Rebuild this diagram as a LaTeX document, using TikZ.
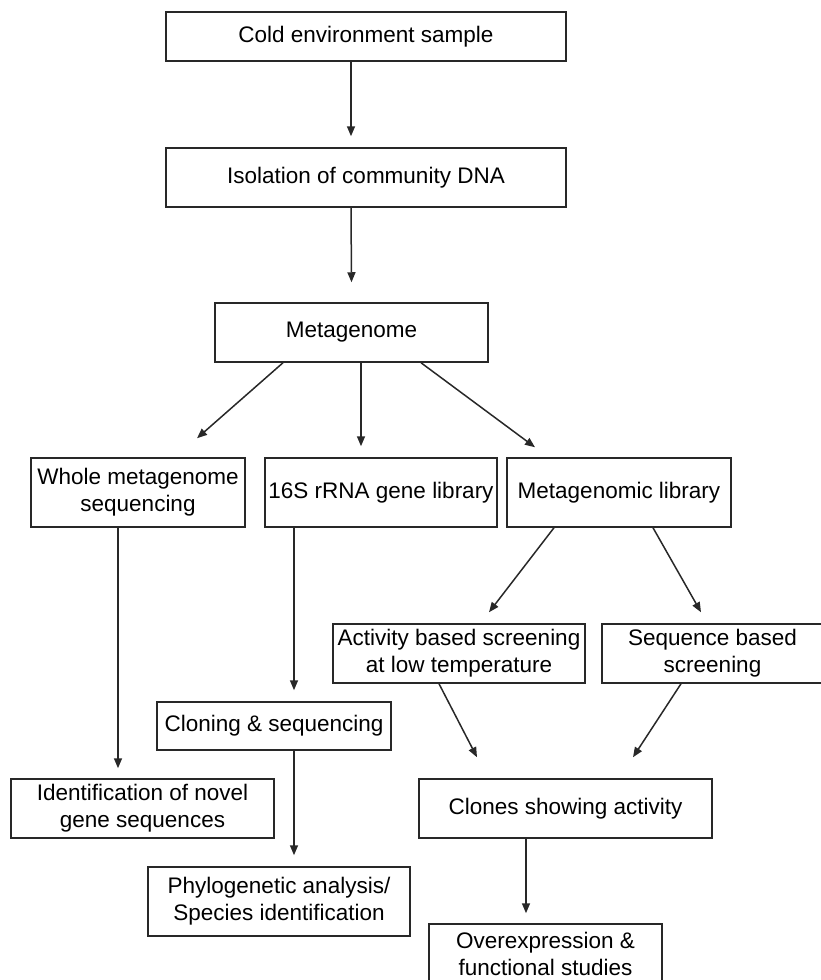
\documentclass[tikz,border=0pt]{standalone}
\usepackage{fontspec}
\setmainfont{Liberation Sans}
\usetikzlibrary{arrows.meta}
\definecolor{mydark}{RGB}{40,40,40}
\tikzset{
  block/.style={rectangle, draw=mydark, line width=1.5pt, inner sep=0pt,
    align=center, font=\fontsize{22.5}{27}\selectfont},
  arrow/.style={-{Triangle[length=10pt,width=8pt]}, line width=1.5pt, color=mydark}
}
\begin{document}
\begin{tikzpicture}[x=1pt,y=-1pt]
  \useasboundingbox (0,0) rectangle (820,980);
  % main trunk
  \node[block, minimum width=400pt, minimum height=49pt] (cold) at (366,36.5) {Cold environment sample};
  \node[block, minimum width=400pt, minimum height=59pt] (isol) at (366,177.5) {Isolation of community DNA};
  \node[block, minimum width=273pt, minimum height=59pt] (meta) at (351.5,332.5) {Metagenome};
  % three branches
  \node[block, minimum width=214pt, minimum height=69pt] (whole) at (138,492.5) {Whole metagenome\\sequencing};
  \node[block, minimum width=232pt, minimum height=69pt] (rrna) at (381,492.5) {16S rRNA gene library};
  \node[block, minimum width=224pt, minimum height=69pt] (mlib) at (619,492.5) {Metagenomic library};
  % screening
  \node[block, minimum width=252pt, minimum height=59pt] (actscr) at (459,653.5) {Activity based screening\\at low temperature};
  \node[block, minimum width=221pt, minimum height=59pt] (seqscr) at (712.5,653.5) {Sequence based\\screening};
  % lower level
  \node[block, minimum width=234pt, minimum height=48pt] (cloning) at (274,726) {Cloning \& sequencing};
  \node[block, minimum width=263pt, minimum height=59pt] (ident) at (142.5,808.5) {Identification of novel\\gene sequences};
  \node[block, minimum width=293pt, minimum height=59pt] (clones) at (565.5,808.5) {Clones showing activity};
  \node[block, minimum width=262pt, minimum height=69pt] (phylo) at (279,901.5) {Phylogenetic analysis/\\Species identification};
  \node[block, minimum width=233pt, minimum height=60pt] (overexp) at (545.5,954) {Overexpression \&\\functional studies};
  % arrows down the trunk
  \draw[arrow] ([xshift=-15pt]cold.south) -- ([xshift=-15pt,yshift=11pt]isol.north);
  \draw[arrow] ([xshift=-15pt]isol.south) -- ([yshift=20pt]meta.north);
  % metagenome branches
  \draw[arrow] ([xshift=-68.5pt]meta.south) -- ([xshift=59pt,yshift=19pt]whole.north);
  \draw[arrow] ([xshift=9.5pt]meta.south) -- ([xshift=-20pt,yshift=11pt]rrna.north);
  \draw[arrow] ([xshift=69.5pt]meta.south) -- ([xshift=-84pt,yshift=10pt]mlib.north);
  % left columns
  \draw[arrow] ([xshift=-20pt]whole.south) -- ([xshift=-24.5pt,yshift=10pt]ident.north);
  \draw[arrow] ([xshift=-87pt]rrna.south) -- ([xshift=20pt,yshift=11pt]cloning.north);
  \draw[arrow] ([xshift=20pt]cloning.south) -- ([xshift=15pt,yshift=11pt]phylo.north);
  % library screening
  \draw[arrow] ([xshift=-65pt]mlib.south) -- ([xshift=30pt,yshift=11pt]actscr.north);
  \draw[arrow] ([xshift=34pt]mlib.south) -- ([xshift=-11.5pt,yshift=11pt]seqscr.north);
  \draw[arrow] ([xshift=-20pt]actscr.south) -- ([xshift=-88.5pt,yshift=21pt]clones.north);
  \draw[arrow] ([xshift=-31.5pt]seqscr.south) -- ([xshift=67.5pt,yshift=21pt]clones.north);
  \draw[arrow] ([xshift=-39.5pt]clones.south) -- ([xshift=-19.5pt,yshift=10pt]overexp.north);
\end{tikzpicture}
\end{document}
